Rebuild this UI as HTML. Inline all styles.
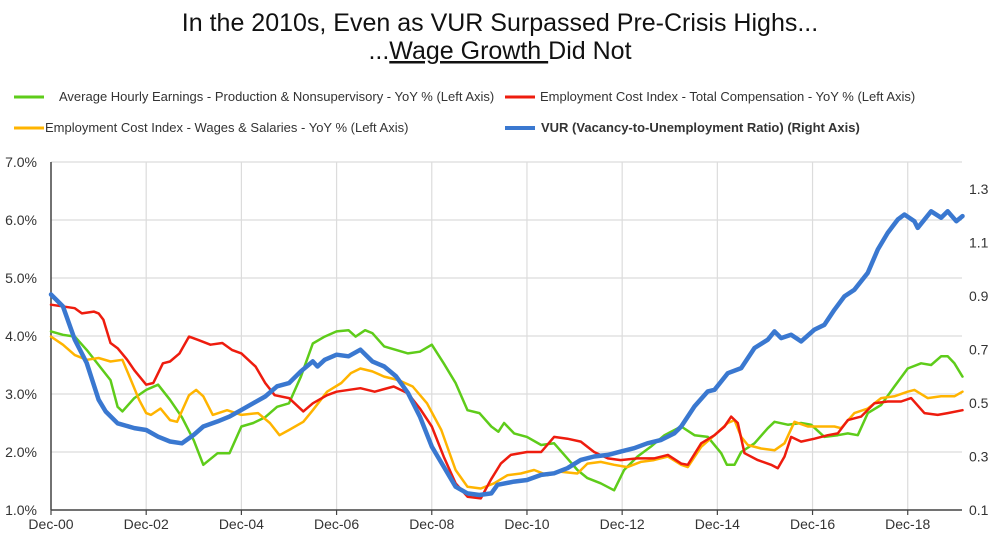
<!DOCTYPE html>
<html><head><meta charset="utf-8"><style>
body{margin:0;background:#fff;font-family:"Liberation Sans",sans-serif;}
</style></head><body>
<svg id="chart" width="1000" height="541" xmlns="http://www.w3.org/2000/svg" font-family="Liberation Sans, sans-serif">
<text x="500" y="31" text-anchor="middle" font-size="25" fill="#111">In the 2010s, Even as VUR Surpassed Pre-Crisis Highs...</text>
<text x="500" y="59" text-anchor="middle" font-size="25" fill="#111">...<tspan text-decoration="underline">Wage Growth </tspan>Did Not</text>
<g font-size="13" fill="#333">
<line x1="14" y1="97" x2="44" y2="97" stroke="#5ecc1a" stroke-width="3"/>
<text x="59" y="101">Average Hourly Earnings - Production &amp; Nonsupervisory - YoY % (Left Axis)</text>
<line x1="505" y1="97" x2="535" y2="97" stroke="#ee1c0e" stroke-width="3"/>
<text x="540" y="101">Employment Cost Index - Total Compensation - YoY % (Left Axis)</text>
<line x1="14" y1="128" x2="44" y2="128" stroke="#ffb400" stroke-width="3"/>
<text x="45" y="132">Employment Cost Index - Wages &amp; Salaries - YoY % (Left Axis)</text>
<line x1="505" y1="128" x2="535" y2="128" stroke="#3a78d0" stroke-width="4"/>
<text x="541" y="132" font-weight="bold">VUR (Vacancy-to-Unemployment Ratio) (Right Axis)</text>
</g>
<g id="grid"></g><g id="axes"></g><g id="series"></g>
</svg>
<script>
// years since Dec-00
const aheT=[0,0.25,0.5,0.75,1,1.25,1.4,1.5,1.75,2,2.25,2.5,2.75,3,3.2,3.5,3.75,4,4.25,4.5,4.75,5,5.25,5.5,5.75,6,6.25,6.4,6.6,6.75,7,7.25,7.5,7.75,8,8.25,8.5,8.75,9,9.25,9.4,9.52,9.73,10,10.3,10.57,10.85,11.06,11.27,11.55,11.83,12.04,12.32,12.6,12.89,13.24,13.52,13.8,14.08,14.2,14.36,14.5,14.78,15.06,15.2,15.48,15.76,15.97,16.25,16.53,16.74,16.95,17.16,17.44,17.72,18,18.28,18.49,18.7,18.84,18.98,19.15];
const aheV=[4.08,4.02,3.99,3.76,3.5,3.24,2.78,2.7,2.93,3.07,3.16,2.9,2.6,2.2,1.78,1.98,1.98,2.44,2.5,2.6,2.78,2.84,3.3,3.87,3.99,4.08,4.1,3.99,4.1,4.05,3.82,3.76,3.7,3.73,3.85,3.53,3.19,2.72,2.67,2.44,2.35,2.5,2.32,2.26,2.12,2.15,1.89,1.69,1.55,1.46,1.34,1.69,1.92,2.09,2.29,2.44,2.29,2.26,1.98,1.78,1.78,2.0,2.15,2.41,2.52,2.47,2.5,2.47,2.26,2.29,2.32,2.29,2.67,2.81,3.13,3.44,3.53,3.5,3.65,3.65,3.53,3.3];
const eciTotT=[0,0.5,0.65,0.9,1,1.1,1.25,1.4,1.6,1.75,2,2.15,2.35,2.5,2.7,2.9,3.1,3.35,3.6,3.8,4,4.3,4.5,4.7,5,5.3,5.5,5.8,6,6.5,6.8,7.2,7.5,7.75,8,8.25,8.5,8.75,9.03,9.24,9.45,9.66,10,10.3,10.57,10.85,11.13,11.41,11.7,11.97,12.32,12.67,12.96,13.24,13.38,13.66,13.94,14.15,14.29,14.43,14.57,14.85,15.13,15.27,15.41,15.55,15.76,16.04,16.32,16.53,16.74,17.02,17.3,17.58,17.86,18.07,18.35,18.63,18.84,19.15];
const eciTotV=[4.54,4.48,4.39,4.42,4.39,4.28,3.88,3.79,3.59,3.41,3.16,3.19,3.53,3.56,3.7,3.99,3.93,3.85,3.88,3.76,3.7,3.47,3.19,2.98,2.93,2.7,2.84,2.98,3.04,3.1,3.04,3.13,3.01,2.75,2.44,1.92,1.46,1.23,1.2,1.52,1.8,1.95,2.0,2.0,2.26,2.23,2.18,2.0,1.89,1.86,1.89,1.89,1.95,1.8,1.78,2.15,2.29,2.44,2.61,2.5,1.98,1.86,1.78,1.72,1.92,2.26,2.18,2.23,2.29,2.32,2.55,2.61,2.84,2.87,2.87,2.93,2.67,2.64,2.67,2.72];
const eciWagT=[0,0.25,0.5,0.75,1,1.25,1.5,1.65,1.85,2,2.1,2.3,2.5,2.65,2.9,3.05,3.2,3.4,3.7,4,4.35,4.6,4.8,5,5.3,5.5,5.8,6.1,6.3,6.5,6.75,7,7.3,7.6,7.9,8.2,8.5,8.75,9.03,9.31,9.59,9.87,10.15,10.43,10.71,11.06,11.27,11.55,11.83,12.11,12.39,12.67,12.96,13.24,13.38,13.66,13.94,14.22,14.36,14.5,14.64,14.92,15.2,15.41,15.62,15.9,16.18,16.46,16.6,16.88,17.16,17.44,17.72,18,18.14,18.42,18.7,18.98,19.15];
const eciWagV=[3.99,3.85,3.67,3.59,3.62,3.56,3.59,3.3,2.9,2.67,2.64,2.75,2.55,2.52,2.98,3.07,2.96,2.64,2.72,2.64,2.67,2.5,2.29,2.38,2.52,2.72,3.04,3.19,3.36,3.44,3.39,3.3,3.24,3.13,2.84,2.38,1.69,1.4,1.37,1.46,1.6,1.63,1.69,1.6,1.66,1.63,1.8,1.83,1.78,1.74,1.83,1.86,1.92,1.78,1.74,2.09,2.29,2.5,2.55,2.26,2.12,2.06,2.03,2.15,2.52,2.44,2.44,2.44,2.41,2.67,2.75,2.93,2.96,3.04,3.07,2.93,2.96,2.96,3.04];
const vurT=[0,0.25,0.5,0.75,1,1.15,1.4,1.75,2,2.25,2.5,2.75,3,3.2,3.5,3.75,4,4.25,4.5,4.75,5,5.25,5.5,5.6,5.75,6,6.25,6.5,6.75,7,7.25,7.5,7.75,8,8.25,8.5,8.75,9,9.25,9.38,9.73,10,10.3,10.57,10.85,11.13,11.41,11.7,11.97,12.25,12.53,12.82,13.1,13.24,13.52,13.8,13.94,14.22,14.5,14.78,15.06,15.2,15.34,15.55,15.76,16.04,16.25,16.46,16.67,16.88,17.16,17.37,17.58,17.79,17.93,18.14,18.21,18.49,18.7,18.84,19.02,19.15];
const vurV=[0.905,0.861,0.736,0.649,0.512,0.468,0.424,0.406,0.399,0.374,0.356,0.349,0.381,0.412,0.431,0.449,0.474,0.499,0.524,0.562,0.574,0.618,0.655,0.636,0.661,0.68,0.674,0.699,0.655,0.636,0.599,0.537,0.449,0.337,0.262,0.187,0.162,0.156,0.162,0.194,0.206,0.212,0.231,0.237,0.256,0.287,0.3,0.306,0.318,0.331,0.349,0.362,0.387,0.412,0.487,0.543,0.549,0.611,0.63,0.705,0.736,0.767,0.742,0.755,0.73,0.774,0.792,0.848,0.898,0.923,0.986,1.073,1.135,1.185,1.204,1.179,1.154,1.216,1.192,1.216,1.179,1.198];
const leftTicks=[1,2,3,4,5,6,7];
const leftTickLabels=["1.0%","2.0%","3.0%","4.0%","5.0%","6.0%","7.0%"];
const rightTicks=[0.1,0.3,0.5,0.7,0.9,1.1,1.3];
const rightTickLabels=["0.1","0.3","0.5","0.7","0.9","1.1","1.3"];
const xTicks=[0,2,4,6,8,10,12,14,16,18];
const xTickLabels=["Dec-00","Dec-02","Dec-04","Dec-06","Dec-08","Dec-10","Dec-12","Dec-14","Dec-16","Dec-18"];

const X0=51,X1=962,TMAX=19.14,Y0=510,Y1=162;
const xs=t=>X0+(X1-X0)*t/TMAX;
const yl=v=>Y0-(Y0-Y1)*(v-1)/6;
const yr=v=>Y0-(Y0-Y1)*(v-0.1)/1.3;
const NS="http://www.w3.org/2000/svg";
function mk(tag,attrs,parent){const e=document.createElementNS(NS,tag);for(const k in attrs)e.setAttribute(k,attrs[k]);parent.appendChild(e);return e;}
const grid=document.getElementById('grid'),axes=document.getElementById('axes'),series=document.getElementById('series');
leftTicks.forEach((v,i)=>{
  if(i>0){const g=mk('line',{x1:X0,x2:X1,y1:yl(v),y2:yl(v),stroke:'#dcdcdc','stroke-width':1.2},grid);
  
  }
  const t=mk('text',{x:37,y:yl(v)+5,'text-anchor':'end','font-size':14,fill:'#333'},axes);t.textContent=leftTickLabels[i];
  
  
});
rightTicks.forEach((v,i)=>{
  const t=mk('text',{x:969,y:yr(v)+5,'font-size':14,fill:'#333'},axes);t.textContent=rightTickLabels[i];
  
  
});
xTicks.forEach((v,i)=>{
  if(i>0){const g=mk('line',{x1:xs(v),x2:xs(v),y1:Y1,y2:Y0,stroke:'#dcdcdc','stroke-width':1.2},grid);
  
  }
  mk('line',{x1:xs(v),x2:xs(v),y1:Y0,y2:Y0+5,stroke:'#444','stroke-width':1.2},axes);
  const t=mk('text',{x:xs(v),y:529,'text-anchor':'middle','font-size':14,fill:'#333'},axes);t.textContent=xTickLabels[i];
  
  
});
const xa=mk('line',{x1:X0,x2:X1,y1:Y0,y2:Y0,stroke:'#444','stroke-width':1.5},axes);


const ya=mk('line',{x1:X0,x2:X0,y1:Y1,y2:Y0,stroke:'#444','stroke-width':1.5},axes);


function line(T,V,yf,color,w,name){
  const d=T.map((t,i)=>(i?'L':'M')+xs(t).toFixed(1)+','+yf(V[i]).toFixed(1)).join('');
  const p=mk('path',{d:d,fill:'none',stroke:color,'stroke-width':w,'stroke-linejoin':'round','stroke-linecap':'round'},series);
  
  
}
line(aheT,aheV,yl,'#5ecc1a',2.5,'ahe-line');
line(eciWagT,eciWagV,yl,'#ffb400',2.5,'eci-wages-line');
line(eciTotT,eciTotV,yl,'#ee1c0e',2.5,'eci-total-line');
line(vurT,vurV,yr,'#3a78d0',4.5,'vur-line');
</script>
</body></html>
